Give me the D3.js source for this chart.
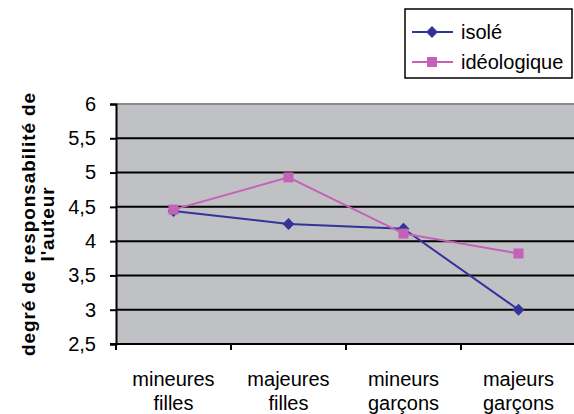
<!DOCTYPE html>
<html>
<head>
<meta charset="utf-8">
<script src="https://cdn.jsdelivr.net/npm/d3@7"></script>
<style>
  html, body { margin: 0; padding: 0; background: #fff; }
  svg { display: block; font-family: "Liberation Sans", Arial, sans-serif; }
</style>
</head>
<body>
<svg id="chart" width="574" height="414"></svg>
<script>
// Categories (two-line labels) and the two series
const categories = [["mineures", "filles"], ["majeures", "filles"], ["mineurs", "garçons"], ["majeurs", "garçons"]];
const isole = [4.44, 4.25, 4.18, 3.0];
const ideologique = [4.46, 4.93, 4.11, 3.82];
const yTicks = [2.5, 3, 3.5, 4, 4.5, 5, 5.5, 6];
const seriesNames = ["isolé", "idéologique"];
const colors = ["#333399", "#C462B8"];

const svg = d3.select("#chart");
const plot = { left: 116, right: 576, top: 104, bottom: 344 };

const x = d3.scaleBand().domain(d3.range(categories.length)).range([plot.left, plot.right]);
const y = d3.scaleLinear().domain([2.5, 6]).range([plot.bottom, plot.top]);

// Plot background
svg.append("rect")
  .attr("x", plot.left).attr("y", plot.top)
  .attr("width", plot.right - plot.left).attr("height", plot.bottom - plot.top)
  .attr("fill", "#C0C1C5");
// Top frame line
svg.append("line")
  .attr("x1", plot.left).attr("x2", plot.right)
  .attr("y1", plot.top).attr("y2", plot.top)
  .attr("stroke", "#8a8a8a").attr("stroke-width", 2);

// Horizontal gridlines
svg.append("g").selectAll("line")
  .data(yTicks.filter(d => d > 2.5 && d < 6))
  .join("line")
  .attr("x1", plot.left).attr("x2", plot.right)
  .attr("y1", d => y(d)).attr("y2", d => y(d))
  .attr("stroke", "#000").attr("stroke-width", 2);

// Y axis
const yAxis = svg.append("g")
  .attr("transform", `translate(${plot.left},0)`)
  .call(d3.axisLeft(y).tickValues(yTicks).tickSize(6).tickPadding(14)
    .tickFormat(d => String(d).replace(".", ",")));
yAxis.select(".domain").attr("stroke", "#000").attr("stroke-width", 2);
yAxis.selectAll(".tick line").attr("stroke", "#000").attr("stroke-width", 2);
yAxis.selectAll(".tick text").attr("font-size", 20).attr("fill", "#000")
  .attr("font-family", "Liberation Sans, Arial, sans-serif");

// X axis (ticks at category boundaries)
const xAxisG = svg.append("g");
xAxisG.append("line")
  .attr("x1", plot.left - 6).attr("x2", plot.right)
  .attr("y1", plot.bottom).attr("y2", plot.bottom)
  .attr("stroke", "#000").attr("stroke-width", 2);
xAxisG.selectAll("line.tk")
  .data(d3.range(categories.length))
  .join("line").attr("class", "tk")
  .attr("x1", d => x(d)).attr("x2", d => x(d))
  .attr("y1", plot.bottom).attr("y2", plot.bottom + 6)
  .attr("stroke", "#000").attr("stroke-width", 2);
const catText = xAxisG.selectAll("text.cat")
  .data(categories)
  .join("text").attr("class", "cat")
  .attr("x", (d, i) => x(i) + x.bandwidth() / 2)
  .attr("y", 386)
  .attr("text-anchor", "middle")
  .attr("font-size", 20)
  .attr("fill", "#000");
catText.selectAll("tspan")
  .data(d => d)
  .join("tspan")
  .attr("x", function() { return d3.select(this.parentNode).attr("x"); })
  .attr("dy", (d, i) => i === 0 ? 0 : 24)
  .text(d => d);

// Y axis title
svg.append("text")
  .attr("transform", "translate(29,224) rotate(-90)")
  .attr("text-anchor", "middle")
  .attr("font-size", 19).attr("font-weight", "bold")
  .attr("letter-spacing", 0.9)
  .selectAll("tspan")
  .data(["degré de responsabilité de", "l'auteur"])
  .join("tspan")
  .attr("x", 0)
  .attr("dy", (d, i) => i === 0 ? 6 : 19)
  .text(d => d);

// Series lines and markers
const line = d3.line().x((d, i) => x(i) + x.bandwidth() / 2).y(d => y(d));
const diamond = d3.symbol().type(d3.symbolDiamond2).size(90);
const square = d3.symbol().type(d3.symbolSquare).size(100);

[isole, ideologique].forEach((vals, s) => {
  svg.append("path").datum(vals)
    .attr("d", line).attr("fill", "none")
    .attr("stroke", colors[s]).attr("stroke-width", 2);
});
[isole, ideologique].forEach((vals, s) => {
  svg.append("g").selectAll("path")
    .data(vals).join("path")
    .attr("transform", (d, i) => `translate(${x(i) + x.bandwidth() / 2},${y(d)})`)
    .attr("d", s === 0 ? diamond : square)
    .attr("fill", colors[s]);
});

// Legend
const lg = svg.append("g");
lg.append("rect")
  .attr("x", 405).attr("y", 9).attr("width", 167).attr("height", 69)
  .attr("fill", "#fff").attr("stroke", "#000").attr("stroke-width", 1.5);
seriesNames.forEach((name, s) => {
  const yy = 32 + s * 30;
  lg.append("line").attr("x1", 412).attr("x2", 453).attr("y1", yy).attr("y2", yy)
    .attr("stroke", colors[s]).attr("stroke-width", 2);
  lg.append("path").attr("transform", `translate(432,${yy})`)
    .attr("d", s === 0 ? diamond : square).attr("fill", colors[s]);
  lg.append("text").attr("x", 461).attr("y", yy + 7)
    .attr("font-size", 20).attr("fill", "#000").text(name);
});
</script>
</body>
</html>
